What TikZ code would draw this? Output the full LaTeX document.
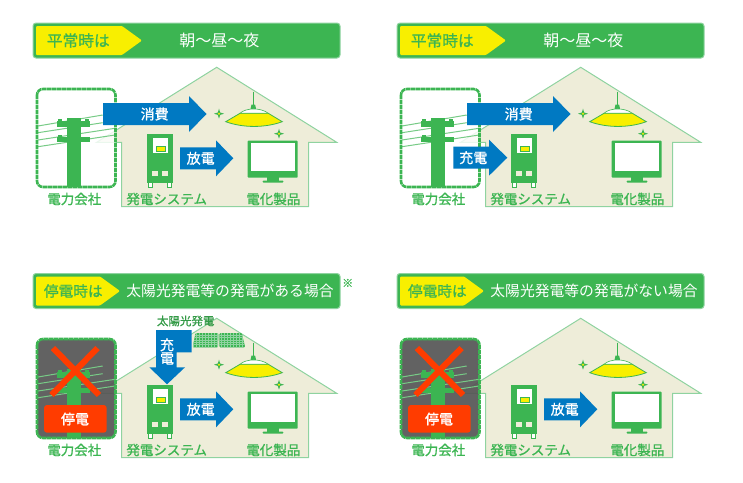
\documentclass[tikz,border=0pt]{standalone}
\usepackage{fontspec}
\newfontfamily\jpfont{Noto Sans CJK JP}
\newfontfamily\jpmid[FakeBold=0.9]{Noto Sans CJK JP}
\usetikzlibrary{positioning}

\definecolor{leaf}{HTML}{3CB552}
\definecolor{leafpale}{HTML}{8FD3A0}
\definecolor{wall}{HTML}{EEEDD9}
\definecolor{lemon}{HTML}{F8EF00}
\definecolor{flow}{HTML}{0079C2}
\definecolor{alarm}{HTML}{FF3C00}
\definecolor{dark}{HTML}{555555}
\definecolor{solar}{HTML}{3CB552}

\tikzset{
  bartext/.style={inner sep=0pt,text=white,font=\jpfont\fontsize{#1}{#1}\selectfont},
  tagtext/.style={inner sep=0pt,text=leaf,font=\jpmid\fontsize{#1}{#1}\selectfont},
  unitlabel/.style={inner sep=0pt,text=leaf,font=\jpmid\fontsize{13.5}{14}\selectfont},
  flowtext/.style={inner sep=0pt,text=white,font=\jpmid\fontsize{14}{14}\selectfont},
}

% header bar: y, tag end, tag size, tag x, tag text, text x, text, size
\newcommand{\headbar}[8]{
  \fill[leaf,draw=leafpale,line width=1pt,rounded corners=3pt] (33,#1) rectangle (340,#1+35);
  \fill[lemon,rounded corners=1pt] (36,#1+3) -- (#2,#1+3) -- (#2+20,#1+17.5) -- (#2,#1+32) -- (36,#1+32) -- cycle;
  \node[tagtext=#3] (tag) at (#4,#1+17.5) {#5};
  \node[bartext=#8] (headline) at (#6,#1+17.5) {#7};
}
% block arrow: name, x0, head x, tip x, y, label, label x
\newcommand{\blockarrow}[7]{
  \fill[flow] (#2,#5-11) -- (#3,#5-11) -- (#3,#5-18) -- (#4,#5) -- (#3,#5+18) -- (#3,#5+11) -- (#2,#5+11) -- cycle;
  \node[flowtext] (#1) at (#7,#5) {#6};
}
\newcommand{\sparkle}[2]{
  \fill[leaf,shift={(#1,#2)}] (0,-5) -- (1.2,-1.2) -- (5,0) -- (1.2,1.2) -- (0,5) -- (-1.2,1.2) -- (-5,0) -- (-1.2,-1.2) -- cycle;
  \fill[lemon] (#1,#2) circle (1.1);
}
% house with lamp, power unit and screen
\newcommand{\housebody}{
  \fill[wall,draw=leafpale,line width=1pt] (216.7,67.3) -- (336.7,142.3) -- (308.7,142.3) -- (308.7,206.7)
    -- (121.7,206.7) -- (121.7,142.3) -- (96.7,142.3) -- cycle;
  % lamp
  \draw[leaf,line width=.7pt] (253.3,91.7) -- (253.3,106);
  \fill[leaf] (250.5,109) -- (251.5,104.5) -- (255.1,104.5) -- (256.1,109) -- cycle;
  \fill[white,draw=leaf,line width=.6pt] (240,113.3) .. controls (246,107.5) and (261,107.5) .. (268.3,113.3) -- cycle;
  \fill[lemon,draw=leaf,line width=.8pt] (240,113.3) -- (268.3,113.3) -- (282.3,121.7)
    .. controls (265,128) and (243,128) .. (225.7,121.7) -- cycle;
  \sparkle{219}{113.7}
  \sparkle{279}{133.7}
  % unit
  \fill[leaf] (147,134) rectangle (173,182.7);
  \fill[white] (152.7,138.3) rectangle (168.3,153.3);
  \fill[lemon,draw=leaf,line width=.8pt] (156,146.7) rectangle (165.7,151.7);
  \fill[wall] (152,171) rectangle (158,176);
  \fill[wall] (162.3,171) rectangle (168.3,176);
  \fill[white,draw=leaf,line width=1pt] (148.5,182.7) rectangle (152.5,187);
  \fill[white,draw=leaf,line width=1pt] (167.7,182.7) rectangle (171.7,187);
  % screen
  \fill[leaf,rounded corners=.8pt] (247.7,140.7) rectangle (297.7,177.7);
  \fill[white] (250.7,143.3) rectangle (295,171);
  \fill[leaf] (267,177) rectangle (279,181);
  \fill[leaf,rounded corners=.8pt] (262.7,180.5) rectangle (283.3,182.7);
  \node[unitlabel] (company) at (74.3,199) {電力会社};
  \node[unitlabel] (system) at (166.7,199) {発電システム};
  \node[unitlabel] (appliance) at (273.3,199) {電化製品};
}
\newcommand{\polelines}{
  \foreach \ya/\yb/\xb in {126/115/102.7,132.7/122.7/102.7,140/128.3/115,146.7/135/115}
    \draw[leaf!70!white,line width=1pt] (38,\ya) -- (\xb,\yb);
  \fill[leaf] (66.7,117.7) rectangle (81,187);
  \fill[leaf] (56.7,121) rectangle (90,126.7);
  \fill[leaf] (56.7,136.7) rectangle (90,142);
  \fill[leaf] (58,119) rectangle (62,122);
  \fill[leaf] (58,135) rectangle (62,138);
  \fill[leaf] (85,119) rectangle (89,122);
}
\newcommand{\polebox}{
  \fill[white,opacity=.82,rounded corners=6pt] (37,89) rectangle (115.5,187);
  \polelines
  \draw[leaf,line width=2.6pt,rounded corners=6pt,dash pattern=on 4.4pt off .6pt] (37,89) rectangle (115.5,187);
}
\newcommand{\outagebox}{
  \fill[dark,opacity=.92,rounded corners=6pt] (37,88) rectangle (115.5,187);
  \polelines
  \draw[leaf,line width=2.6pt,rounded corners=6pt,dash pattern=on 4.4pt off .6pt] (37,88) rectangle (115.5,187);
  \draw[alarm,line width=6pt] (53,97) -- (99,144);
  \draw[alarm,line width=6pt] (97.5,97) -- (51.5,144);
  \fill[alarm,rounded corners=3pt] (44,154) rectangle (106.7,181.7);
  \node[flowtext] (outage) at (75,168) {停電};
}

\begin{document}
\begin{tikzpicture}[x=1pt,y=-1pt]
  \useasboundingbox (0,0) rectangle (743,482);

  % usual day, discharge
  \begin{scope}[name prefix=a-]
    \headbar{23}{122}{15.7}{78.3}{平常時は}{219.3}{朝〜昼〜夜}{16}
    \housebody
    \polebox
    \blockarrow{use}{103}{189}{206.5}{114}{消費}{154.7}
    \blockarrow{out}{180}{216}{233.3}{158.3}{放電}{200.7}
  \end{scope}

  % usual day, charge
  \begin{scope}[shift={(364,0)},name prefix=b-]
    \headbar{23}{122}{15.7}{78.3}{平常時は}{219.3}{朝〜昼〜夜}{16}
    \housebody
    \polebox
    \blockarrow{use}{103}{189}{206.5}{114}{消費}{154.7}
    \blockarrow{in}{89.3}{125}{143.3}{157.7}{充電}{109.3}
  \end{scope}

  % outage with solar
  \begin{scope}[shift={(0,251)},name prefix=c-]
    \headbar{22.5}{100}{14.7}{73.3}{停電時は}{230}{太陽光発電等の発電がある場合}{14.8}
    \housebody
    \outagebox
    \begin{scope}
      \clip[rounded corners=1pt] (195.5,82) -- (218.5,82) -- (218,96.3) -- (192.7,96.3) -- cycle;
      \fill[solar] (190,80) rectangle (222,98);
      \foreach \i in {0,...,8} \draw[leafpale,line width=.3pt] (193+\i*3,80) -- (193+\i*3,98);
      \foreach \i in {0,...,5} \draw[leafpale,line width=.3pt] (190,84+\i*2.4) -- (222,84+\i*2.4);
    \end{scope}
    \begin{scope}
      \clip[rounded corners=1pt] (219.5,82) -- (241.7,82) -- (245.2,96.3) -- (219.3,96.3) -- cycle;
      \fill[solar] (218,80) rectangle (248,98);
      \foreach \i in {0,...,8} \draw[leafpale,line width=.3pt] (221+\i*3,80) -- (221+\i*3,98);
      \foreach \i in {0,...,5} \draw[leafpale,line width=.3pt] (218,84+\i*2.4) -- (248,84+\i*2.4);
    \end{scope}
    \fill[flow] (156,79) -- (191.7,79) -- (191.7,101.3) -- (176.7,101.3) -- (176.7,116.3) -- (185,116.3)
      -- (167,133.3) -- (149.3,116.3) -- (156,116.3) -- cycle;
    \node[flowtext,align=center] (charge) at (167,100.5) {充\\[-.5pt]電};
    \node[inner sep=0pt,text=leaf!85!black,font=\jpmid\fontsize{11.5}{12}\selectfont] (solarname) at (185.7,70) {太陽光発電};
    \node[inner sep=0pt,text=leaf,font=\jpmid\fontsize{11}{11}\selectfont] (note) at (347.7,32) {※};
    \blockarrow{out}{180}{216}{233.3}{158.3}{放電}{200.7}
  \end{scope}

  % outage without solar
  \begin{scope}[shift={(364,251)},name prefix=d-]
    \headbar{22.5}{100}{14.7}{73.3}{停電時は}{230}{太陽光発電等の発電がない場合}{14.8}
    \housebody
    \outagebox
    \blockarrow{out}{180}{216}{233.3}{158.3}{放電}{200.7}
  \end{scope}
\end{tikzpicture}
\end{document}
